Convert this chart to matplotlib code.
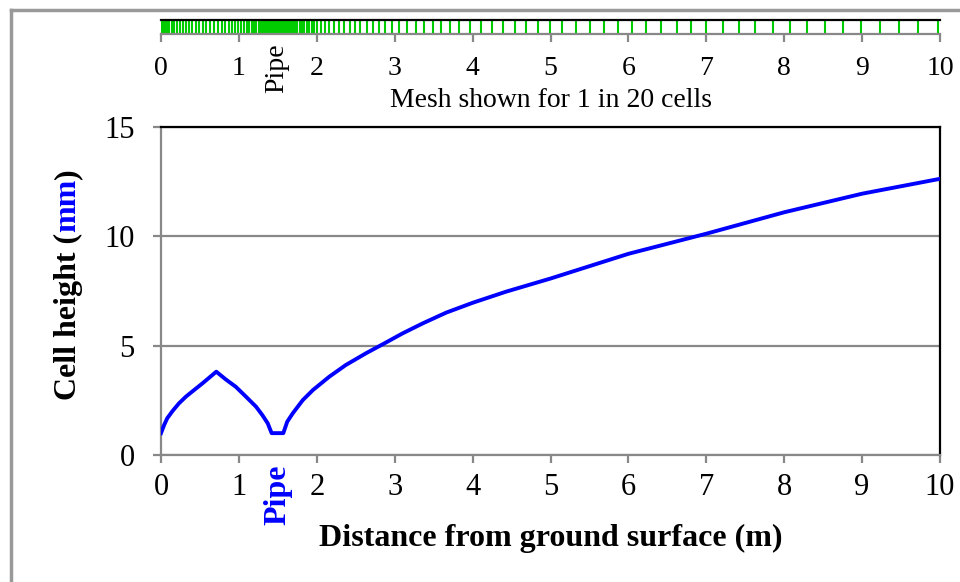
import matplotlib
matplotlib.use("Agg")
import matplotlib.pyplot as plt
from matplotlib.lines import Line2D

plt.rcParams['font.family'] = ['Liberation Serif', 'DejaVu Serif']

# cell height curve
dist = [0.0, 0.04, 0.08, 0.15, 0.23, 0.32, 0.40, 0.53, 0.71, 0.83, 0.96,
        1.09, 1.22, 1.30, 1.37, 1.42, 1.57, 1.62, 1.69, 1.82, 1.95, 2.16,
        2.37, 2.63, 2.87, 3.10, 3.36, 3.66, 4.00, 4.43, 5.0, 6.0, 6.87, 7.0,
        8.0, 9.0, 10.0]
cell_h = [1.0, 1.37, 1.68, 2.02, 2.36, 2.67, 2.90, 3.27, 3.81, 3.46, 3.12,
          2.67, 2.21, 1.83, 1.45, 1.0, 1.0, 1.52, 1.90, 2.51, 2.97, 3.58,
          4.11, 4.65, 5.11, 5.56, 6.02, 6.51, 6.96, 7.47, 8.07, 9.2, 10.0, 10.12,
          11.1, 11.95, 12.63]

# positions of the mesh lines in the strip (every 20th cell)
mesh_x = [0.0, 0.02, 0.04, 0.06, 0.08, 0.10,
          0.135, 0.17, 0.205, 0.24, 0.28, 0.32, 0.36, 0.40, 0.445, 0.49, 0.535,
          0.58, 0.63, 0.68, 0.73, 0.78, 0.825, 0.87, 0.91, 0.95, 0.99, 1.03,
          1.065, 1.10, 1.135, 1.165, 1.195, 1.225, 1.255, 1.28, 1.305,
          1.33, 1.355, 1.38, 1.40, 1.42, 1.44, 1.46, 1.48, 1.50, 1.52, 1.54,
          1.56, 1.58, 1.60, 1.62, 1.64, 1.665, 1.69,
          1.72, 1.75, 1.78, 1.81, 1.84, 1.87, 1.90, 1.935, 1.97, 2.005,
          2.05, 2.10, 2.16, 2.22, 2.28, 2.35, 2.42, 2.49, 2.56, 2.64, 2.72,
          2.80, 2.88, 2.97,
          3.06, 3.16, 3.27, 3.38, 3.49, 3.60, 3.71, 3.83,
          3.97, 4.11, 4.25, 4.39, 4.54, 4.69, 4.84, 4.99,
          5.15, 5.33, 5.51, 5.69, 5.87, 6.05, 6.23, 6.42, 6.62, 6.81, 7.00,
          7.21, 7.42, 7.63, 7.85, 8.07, 8.29, 8.52, 8.76, 8.99, 9.23, 9.48,
          9.72, 9.98]

x_ticks = [0, 1, 2, 3, 4, 5, 6, 7, 8, 9, 10]
y_ticks = [0, 5, 10, 15]
pipe_x = 1.5

grey = '#888888'
W, H = 960, 582
fig = plt.figure(figsize=(9.6, 5.82), dpi=100)

# page frame
fig.add_artist(Line2D([11 / W, 11 / W], [0, 1 - 10 / H], color='#999999', lw=2.5))
fig.add_artist(Line2D([11 / W, 1], [1 - 10 / H, 1 - 10 / H], color='#999999', lw=2.5))

# main plot
ax = fig.add_axes([161 / W, 1 - 455 / H, 779 / W, 328 / H])
ax.plot(dist, cell_h, color='#0000ff', lw=2.8, zorder=3)
ax.set_xlim(0, 10)
ax.set_ylim(0, 15)
ax.set_xticks(x_ticks)
ax.set_yticks(y_ticks)
ax.grid(axis='y', color=grey, lw=1.6)
for s in ['left', 'bottom']:
    ax.spines[s].set_color(grey)
    ax.spines[s].set_linewidth(1.6)
for s in ['top', 'right']:
    ax.spines[s].set_color('black')
    ax.spines[s].set_linewidth(1.6)
ax.tick_params(direction='out', length=6, width=1.6, color=grey,
               labelsize=22, pad=7)
ax.tick_params(axis='y', pad=13)
ax.set_xlabel('Distance from ground surface (m)', fontsize=23,
              fontweight='bold', labelpad=16)
ax.text(pipe_x, -0.03, 'Pipe', transform=ax.get_xaxis_transform(),
        rotation=90, ha='center', va='top', fontsize=23, fontweight='bold',
        color='#0000ff')

# mesh strip
ax2 = fig.add_axes([161 / W, 1 - 34 / H, 779 / W, 14 / H])
ax2.vlines(mesh_x, 0, 1, color='#00cc00', lw=1.5)
ax2.set_xlim(0, 10)
ax2.set_ylim(0, 1)
ax2.set_yticks([])
ax2.set_xticks(x_ticks)
ax2.spines['top'].set_color('black')
ax2.spines['top'].set_linewidth(1.6)
ax2.spines['bottom'].set_color(grey)
ax2.spines['bottom'].set_linewidth(1.6)
ax2.spines['left'].set_visible(False)
ax2.spines['right'].set_visible(False)
ax2.tick_params(direction='out', length=6, width=1.6, color=grey,
                labelsize=20, pad=10)
ax2.set_xlabel('Mesh shown for 1 in 20 cells', fontsize=20, labelpad=5)
ax2.text(1.48, -0.64, 'Pipe', transform=ax2.get_xaxis_transform(),
         rotation=90, ha='center', va='top', fontsize=20)

# y label with blue "mm"
fig.canvas.draw()
r = fig.canvas.get_renderer()
parts = [('Cell height (', 'black'), ('mm', '#0000ff'), (')', 'black')]
texts = []
for s, c in parts:
    t = fig.text(0, 0, s, rotation=90, ha='center', va='bottom', fontsize=23,
                 fontweight='bold', color=c)
    texts.append(t)
heights = [t.get_window_extent(r).height for t in texts]
total = sum(heights)
y = (H - 284) - total / 2
for t, h in zip(texts, heights):
    t.set_position((68 / W, y / H))
    y += h

fig.savefig('out.png', dpi=100)
